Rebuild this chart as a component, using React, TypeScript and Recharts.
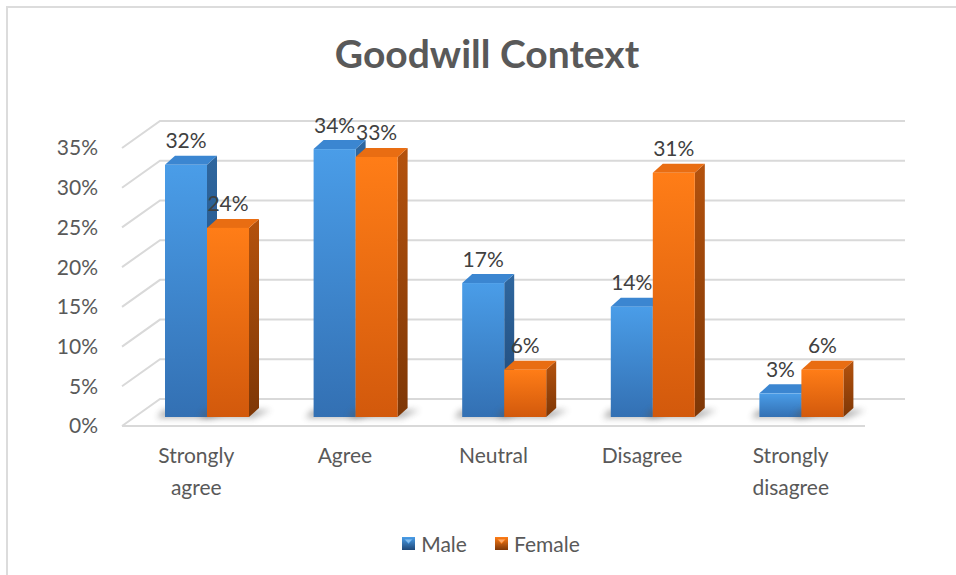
import React from "react";
import { BarChart, Bar, XAxis, YAxis, CartesianGrid, Legend, LabelList } from "recharts";

const categories = ["Strongly agree", "Agree", "Neutral", "Disagree", "Strongly disagree"];
const maleValues = [0.32, 0.34, 0.17, 0.14, 0.03];
const femaleValues = [0.24, 0.33, 0.06, 0.31, 0.06];
const yTicks = [0, 0.05, 0.1, 0.15, 0.2, 0.25, 0.3, 0.35];
const seriesNames = ["Male", "Female"];

const data = categories.map((c, i) => ({ category: c, Male: maleValues[i], Female: femaleValues[i] }));

const FONT = "Lato, 'Open Sans', sans-serif";
// perspective of the 3D plot: bars stand on a plane behind the front edge
const SHIFT_X = 11;
const SHIFT_Y = 9;
const BAR_SCALE = 0.992;
const DEPTH_X = 10;
const DEPTH_Y = 9;
const WALL_X = 38;
const WALL_Y = 27;

const palette: Record<string, { id: string; front: [string, string]; side: [string, string]; top: string }> = {
  Male: { id: "m", front: ["#4a9de8", "#3370b3"], side: ["#2f679f", "#1f4878"], top: "#3b86d1" },
  Female: { id: "f", front: ["#ff7d17", "#d2590c"], side: ["#b4520d", "#7e3706"], top: "#e96d12" },
};

const project = (x: number, y: number, width: number, height: number) => {
  const h = height * BAR_SCALE;
  const bottom = y + height - SHIFT_Y;
  return { fx: x + SHIFT_X, top: bottom - h, h, w: width };
};

const makeShape = (name: string) => (props: any) => {
  const { x, y, width, height } = props;
  if (width == null || height == null || isNaN(y)) return <g />;
  const c = palette[name];
  const { fx, top, h, w } = project(x, y, width, height);
  const yb = top + h;
  return (
    <g>
      <defs>
        <linearGradient id={`front-${c.id}`} x1="0" y1="0" x2="0" y2="1">
          <stop offset="0%" stopColor={c.front[0]} />
          <stop offset="100%" stopColor={c.front[1]} />
        </linearGradient>
        <linearGradient id={`side-${c.id}`} x1="0" y1="0" x2="0" y2="1">
          <stop offset="0%" stopColor={c.side[0]} />
          <stop offset="100%" stopColor={c.side[1]} />
        </linearGradient>
        <filter id="bar-shadow" x="-50%" y="-200%" width="200%" height="500%">
          <feGaussianBlur stdDeviation="3" />
        </filter>
      </defs>
      <polygon
        points={`${fx - 8},${yb + 1} ${fx + w + 4},${yb + 1} ${fx + w + DEPTH_X + 12},${yb - DEPTH_Y + 2} ${fx - 2},${yb - DEPTH_Y + 2}`}
        fill="#555"
        opacity={0.45}
        filter="url(#bar-shadow)"
      />
      <polygon
        points={`${fx + w},${top} ${fx + w + DEPTH_X},${top - DEPTH_Y} ${fx + w + DEPTH_X},${yb - DEPTH_Y} ${fx + w},${yb}`}
        fill={`url(#side-${c.id})`}
      />
      <polygon
        points={`${fx},${top} ${fx + DEPTH_X},${top - DEPTH_Y} ${fx + w + DEPTH_X},${top - DEPTH_Y} ${fx + w},${top}`}
        fill={c.top}
      />
      <rect x={fx} y={top} width={w} height={h} fill={`url(#front-${c.id})`} />
    </g>
  );
};

const renderLabel = (props: any) => {
  const { x, y, width, height, value } = props;
  const { fx, top, w } = project(x, y, width, height);
  return (
    <text
      x={fx + w / 2}
      y={top - 25}
      textAnchor="middle"
      dominantBaseline="central"
      fontFamily={FONT}
      fontSize={21}
      fill="#404040"
    >
      {`${Math.round(value * 100)}%`}
    </text>
  );
};

const XTick = (props: any) => {
  const { x, y, payload } = props;
  const words = String(payload.value).split(" ");
  return (
    <text x={x} y={y} textAnchor="middle" fontFamily={FONT} fontSize={21} fill="#595959">
      {words.map((w, i) => (
        <tspan key={i} x={x} dy={i === 0 ? 29 : 32}>
          {w}
        </tspan>
      ))}
    </text>
  );
};

const gridLine = (p: any) => {
  const { x1, y1, x2 } = p;
  const d = `M${x1},${y1} L${x1 + WALL_X},${y1 - WALL_Y} L${x2 + WALL_X + 2},${y1 - WALL_Y}`;
  return <path key={p.key ?? `g-${y1}`} d={d} stroke="#d9d9d9" strokeWidth={2} fill="none" />;
};

const LegendIcon = ({ name }: { name: string }) => {
  const c = palette[name];
  return (
    <svg width={13} height={13} style={{ marginRight: 6 }}>
      <defs>
        <linearGradient id={`leg-${c.id}`} x1="0" y1="0" x2="0" y2="1">
          <stop offset="0%" stopColor={c.front[0]} />
          <stop offset="100%" stopColor={c.side[1]} />
        </linearGradient>
      </defs>
      <rect x={0} y={0} width={13} height={13} fill={`url(#leg-${c.id})`} />
      <polygon points="2,2 11,2 6.5,7" fill={c.front[0]} opacity={0.9} />
      <polygon points="3,2.5 10,2.5 6.5,6" fill="#ffffff" opacity={0.35} />
    </svg>
  );
};

const renderLegend = () => (
  <div
    style={{
      display: "flex",
      justifyContent: "center",
      alignItems: "center",
      fontFamily: FONT,
      fontSize: 21,
      color: "#595959",
      paddingLeft: 26,
      height: 30,
    }}
  >
    {seriesNames.map((n, i) => (
      <div key={n} style={{ display: "flex", alignItems: "center", marginLeft: i === 0 ? 0 : 28 }}>
        <LegendIcon name={n} />
        <span>{n}</span>
      </div>
    ))}
  </div>
);

export default function App() {
  return (
    <div
      style={{
        position: "absolute",
        left: 6,
        top: 6,
        width: 952,
        height: 571,
        borderLeft: "2px solid #dcdcdc",
        borderTop: "2px solid #dcdcdc",
        background: "#fff",
      }}
    >
      <div
        style={{
          position: "absolute",
          left: 0,
          top: 22,
          width: 958,
          textAlign: "center",
          fontFamily: FONT,
          fontWeight: 700,
          fontSize: 39,
          color: "#595959",
          lineHeight: "46px",
        }}
      >
        Goodwill Context
      </div>
      <BarChart
        width={940}
        height={560}
        data={data}
        margin={{ top: 140, right: 83, bottom: 82, left: 0 }}
        barGap={0}
        barSize={42}
      >
        <CartesianGrid horizontal={gridLine} vertical={false} />
        <XAxis
          dataKey="category"
          height={30}
          tickLine={false}
          axisLine={{ stroke: "#d9d9d9", strokeWidth: 2 }}
          tick={<XTick />}
          interval={0}
        />
        <YAxis
          domain={[0, 0.35]}
          ticks={yTicks}
          type="number"
          width={114}
          interval={0}
          axisLine={false}
          tickLine={false}
          tickMargin={18}
          tick={{ fontFamily: FONT, fontSize: 21, fill: "#595959" }}
          tickFormatter={(v: number) => `${Math.round(v * 100)}%`}
        />
        <Legend
          verticalAlign="bottom"
          height={30}
          content={renderLegend}
          wrapperStyle={{ bottom: 10, left: 0, width: 940 }}
        />
        <Bar dataKey="Male" shape={makeShape("Male")} isAnimationActive={false}>
          <LabelList dataKey="Male" content={renderLabel} />
        </Bar>
        <Bar dataKey="Female" shape={makeShape("Female")} isAnimationActive={false}>
          <LabelList dataKey="Female" content={renderLabel} />
        </Bar>
      </BarChart>
    </div>
  );
}
